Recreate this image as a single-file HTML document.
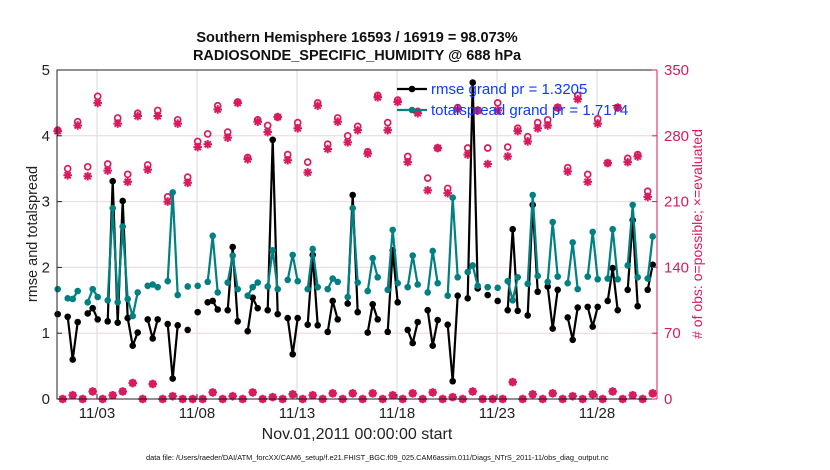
<!DOCTYPE html>
<html><head><meta charset="utf-8"><style>
body{margin:0;background:#fff;}
svg{display:block;font-family:"Liberation Sans",Arial,sans-serif;}
</style></head><body>
<svg id="chart" width="830" height="470" viewBox="0 0 830 470"></svg>
<script>
const xTickLabels=["11/03","11/08","11/13","11/18","11/23","11/28"];
const xTickDays=[2,7,12,17,22,27];
const yTicksLeft=[0,1,2,3,4,5];
const yTicksRight=[0,70,140,210,280,350];
const N=null;
const rmse=[1.29,N,1.25,0.60,1.17,N,1.30,1.38,1.21,N,1.18,3.31,1.16,3.01,1.23,0.81,1.01,N,1.21,0.92,1.21,N,1.14,0.31,1.12,N,1.05,N,1.32,N,1.47,1.49,1.36,N,1.35,2.31,1.18,N,1.03,1.54,1.38,N,1.35,3.94,1.29,N,1.23,0.68,1.23,N,1.13,2.19,1.12,N,1.02,1.49,1.21,N,1.45,3.10,1.32,N,1.01,1.44,1.21,N,1.02,2.26,1.47,N,1.05,0.85,1.17,N,1.35,0.81,1.20,N,1.13,0.27,1.57,N,1.53,4.81,1.68,N,1.58,N,1.49,N,1.35,2.58,1.34,N,1.27,2.95,1.63,N,1.71,1.07,1.66,N,1.24,0.90,1.39,N,1.40,1.10,1.40,N,1.49,1.99,1.35,N,1.66,2.72,1.41,N,1.66,2.04];
const spread=[1.67,N,1.53,1.52,1.64,N,1.47,1.67,1.55,N,1.50,2.90,1.47,2.62,1.52,1.26,1.62,N,1.72,1.74,1.70,N,1.79,3.14,1.58,N,1.71,N,1.72,N,1.78,2.48,1.62,N,1.77,2.18,1.67,N,1.57,1.70,1.77,N,1.71,2.26,1.67,N,1.81,2.19,1.79,N,1.67,2.28,1.70,N,1.67,1.83,1.78,N,1.55,2.90,1.77,N,1.64,2.14,1.85,N,1.66,2.57,1.76,N,1.70,2.18,1.74,N,1.62,2.25,1.76,N,1.57,3.06,1.85,N,1.93,2.03,1.72,N,1.70,N,1.69,N,1.79,1.50,1.85,N,1.75,3.10,1.87,N,1.78,2.69,1.86,N,1.76,2.38,1.67,N,1.86,2.54,1.82,N,1.83,2.58,1.82,N,2.03,2.95,1.85,N,1.83,2.47];
const evaluated=[285,0,238,4,291,0,237,8,315,0,243,4,293,8,231,17,301,0,244,16,301,0,210,3,293,0,230,0,268,0,271,7,308,0,278,3,315,0,255,7,295,0,284,2,300,0,254,5,288,0,241,4,312,0,266,6,295,0,273,6,286,0,261,6,321,0,286,4,316,0,252,6,304,0,222,7,267,0,219,2,308,0,260,8,307,0,250,0,307,0,258,18,285,0,274,5,288,0,291,6,310,0,242,3,319,0,231,5,293,0,251,8,310,0,252,4,258,0,215,6];
const possible=[286,0,245,4,295,0,247,8,322,0,250,4,299,8,239,17,304,0,249,16,307,0,215,3,297,0,236,0,274,0,282,7,312,0,284,3,316,0,257,7,297,0,291,2,300,0,260,5,294,0,252,4,315,0,271,6,299,0,280,6,290,0,263,6,323,0,294,4,318,0,258,6,306,0,235,7,267,0,224,2,310,0,267,8,307,0,267,0,315,0,268,18,288,0,279,5,294,0,297,6,310,0,246,3,323,0,239,5,298,0,251,8,310,0,256,4,260,0,221,6];

const NS="http://www.w3.org/2000/svg";
const svg=document.getElementById('chart');
const L=57,R=657,T=70,B=399;
const RED="#d81b5e",TEAL="#008080",BLUE="#0a3cff";
function xS(d){return L+(R-L)*d/30;}
function yL(v){return B-(B-T)*v/5;}
function yR(v){return B-(B-T)*v/350;}
function tOf(k){return k*0.25+0.035;}
function mk(tag,attrs,parent){const e=document.createElementNS(NS,tag);for(const a in attrs)e.setAttribute(a,attrs[a]);(parent||svg).appendChild(e);return e;}

const grid=mk('g',{});


xTickDays.forEach(d=>mk('line',{x1:xS(d),x2:xS(d),y1:T,y2:B,stroke:'#d9d9d9','stroke-width':1},grid));
yTicksRight.forEach(v=>{if(v>0&&v<350)mk('line',{x1:L,x2:R,y1:yR(v),y2:yR(v),stroke:'#f0d4de','stroke-width':1},grid);});

const obsG=mk('g',{});


function star(x,y,p){const r=4.3,q=3.1;mk('path',{d:`M${x-r},${y}H${x+r}M${x},${y-r}V${y+r}M${x-q},${y-q}L${x+q},${y+q}M${x-q},${y+q}L${x+q},${y-q}`,stroke:RED,'stroke-width':2,fill:'none'},p);}
evaluated.forEach((v,k)=>{const g=mk('g',{},obsG);star(xS(tOf(k)),yR(v),g);});
possible.forEach((v,k)=>{const c=mk('circle',{cx:xS(tOf(k)),cy:yR(v),r:3,fill:'none',stroke:RED,'stroke-width':1.7},obsG);});

function series(vals,color,name){
  const g=mk('g',{});
  
  
  let d='',pen=false;
  vals.forEach((v,k)=>{if(v===null){pen=false;return;}d+=(pen?'L':'M')+xS(tOf(k)).toFixed(1)+','+yL(v).toFixed(1);pen=true;});
  mk('path',{d:d,stroke:color,'stroke-width':2.2,fill:'none','stroke-linejoin':'round'},g);
  vals.forEach((v,k)=>{if(v===null)return;const c=mk('circle',{cx:xS(tOf(k)),cy:yL(v),r:3.3,fill:color},g);});
}
series(rmse,'#000','rmse-line');
series(spread,TEAL,'totalspread-line');

const ax=mk('g',{});


mk('path',{d:`M${R},${T}H${L}V${B}H${R}`,stroke:'#222','stroke-width':1,fill:'none'},ax);
mk('line',{x1:R,x2:R,y1:T,y2:B,stroke:RED,'stroke-width':1},ax);
yTicksLeft.forEach(v=>{mk('line',{x1:L,x2:L+5,y1:yL(v),y2:yL(v),stroke:'#222'},ax);
  const t=mk('text',{x:L-7,y:yL(v)+5,'text-anchor':'end','font-size':15,fill:'#222'},ax);t.textContent=v;});
yTicksRight.forEach(v=>{mk('line',{x1:R-5,x2:R,y1:yR(v),y2:yR(v),stroke:RED},ax);
  const t=mk('text',{x:R+7,y:yR(v)+5,'font-size':15,fill:RED},ax);t.textContent=v;});
xTickDays.forEach((d,i)=>{mk('line',{x1:xS(d),x2:xS(d),y1:B,y2:B-5,stroke:'#222'},ax);
  const t=mk('text',{x:xS(d),y:B+19,'text-anchor':'middle','font-size':15,fill:'#222'},ax);t.textContent=xTickLabels[i];});

const lg=mk('g',{});


[['#000','rmse grand pr = 1.3205',89],[TEAL,'totalspread grand pr = 1.7174',110]].forEach(([c,txt,y])=>{
  const e=mk('g',{},lg);
  mk('line',{x1:397,x2:427,y1:y,y2:y,stroke:c,'stroke-width':2.2},e);
  mk('circle',{cx:412,cy:y,r:3.3,fill:c},e);
  const t=mk('text',{x:431,y:y+5,'font-size':15,fill:BLUE},e);t.textContent=txt;});
</script>
<div style="position:absolute;left:0;top:0;width:830px;height:470px;pointer-events:none;font-family:'Liberation Sans',Arial,sans-serif;">
<div style="position:absolute;left:157px;width:400px;top:29px;text-align:center;font-weight:bold;font-size:14.5px;line-height:18px;color:#111;">Southern Hemisphere 16593 / 16919 = 98.073%<br>RADIOSONDE_SPECIFIC_HUMIDITY @ 688 hPa</div>
<div style="position:absolute;left:33px;top:234px;transform:translate(-50%,-50%) rotate(-90deg);white-space:nowrap;font-size:14.5px;color:#222;">rmse and totalspread</div>
<div style="position:absolute;left:697px;top:234px;transform:translate(-50%,-50%) rotate(-90deg);white-space:nowrap;font-size:14px;color:#d81b5e;"># of obs: o=possible; ×=evaluated</div>
<div style="position:absolute;left:157px;width:400px;top:426px;text-align:center;font-size:16px;color:#222;">Nov.01,2011 00:00:00 start</div>
<div style="position:absolute;left:146px;top:453px;font-size:7.4px;color:#111;white-space:nowrap;">data file: /Users/raeder/DAI/ATM_forcXX/CAM6_setup/f.e21.FHIST_BGC.f09_025.CAM6assim.011/Diags_NTrS_2011-11/obs_diag_output.nc</div>
</div>
</body></html>
